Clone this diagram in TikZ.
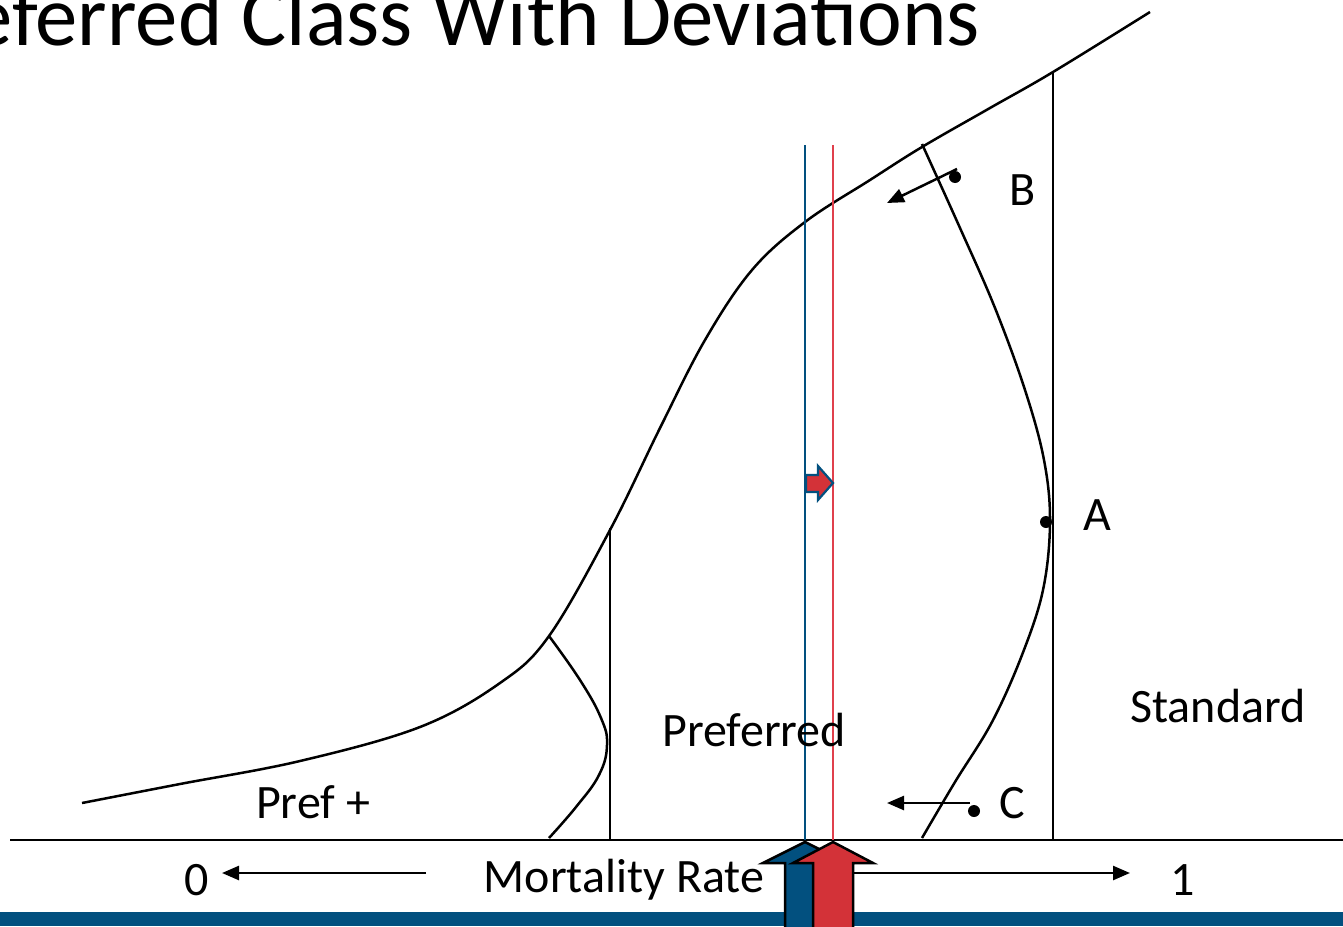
\documentclass[tikz,border=0pt]{standalone}
\usepackage{fontspec}
\setmainfont{Carlito}
\usetikzlibrary{arrows.meta}
\definecolor{dblue}{HTML}{02507F}
\definecolor{bred}{HTML}{D33238}
\definecolor{lred}{HTML}{E0404C}
\tikzset{
  curve/.style={line width=2.5pt, black},
  vline/.style={line width=2.5pt, black},
  lbl/.style={font=\fontsize{48}{56}\selectfont, inner sep=0pt},
  ptr/.style={line width=2.5pt, -{Triangle[length=17pt,width=14pt]}},
  dot/.style={circle, fill=black, minimum size=12pt, inner sep=0pt},
  blockarrow/.style={line width=2.5pt, draw=black, line join=miter},
}
\begin{document}
\begin{tikzpicture}[x=1pt,y=-1pt]
\useasboundingbox (0,0) rectangle (1343,926);
% title
\node[anchor=base east, inner sep=0pt, font=\fontsize{86}{100}\selectfont, xscale=0.985] (title) at (980,45) {Preferred Class With Deviations};
% bottom bar
\fill[dblue] (0,912) rectangle (1343,926);
% axis
\draw[line width=2.5pt] (10,840) -- (1343,840);
% main S curve
\draw[curve] plot[smooth, tension=0.6] coordinates {(82,803) (180,784) (300,761) (420,727) (500,683) (549,636) (610,530) (660,428) (705,340) (752,270) (805,222) (870,180) (922,147) (990,108) (1053,72) (1150,12)};
% left small curve
\draw[curve] plot[smooth, tension=0.7] coordinates {(549,636) (580,680) (601,718) (607,745) (599,775) (576,807) (549,838)};
% right big curve
\draw[curve] plot[smooth, tension=0.6] coordinates {(922,144) (960,228) (995,308) (1025,390) (1044,460) (1050,522) (1043,590) (1022,655) (992,722) (955,782) (922,838)};
% vertical lines
\draw[vline] (610,528) -- (610,840);
\draw[vline] (1053,72) -- (1053,840);
\draw[dblue, line width=2pt] (805,145) -- (805,840);
\draw[lred, line width=2pt] (833,145) -- (833,840);
% small middle arrow
\draw[fill=bred, draw=dblue, line width=2.2pt, line join=miter] (806,475) -- (818,475) -- (818,466) -- (833,483) -- (818,500) -- (818,492) -- (806,492) -- cycle;
% dots and arrows
\node[dot] (Bdot) at (955,177) {};
\coordinate (Bstart) at (957,169);
\coordinate (Bend) at (887,203);
\draw[ptr] (Bstart) -- (Bend);
\node[dot] (Cdot) at (974,811) {};
\coordinate (Cstart) at (970,803);
\coordinate (Cend) at (887,803);
\draw[ptr] (Cstart) -- (Cend);
\node[dot] (Adot) at (1046,522) {};
% labels
\node[lbl] (A) at (1097,515) {A};
\node[lbl] (B) at (1023,190) {B};
\node[lbl] (C) at (1012,803) {C};
\node[lbl] (prefp) at (313,802) {Pref +};
\node[lbl] (pref) at (754,730) {Preferred};
\node[lbl] (std) at (1218,706) {Standard};
\node[lbl] (mort) at (624,880) {Mortality Rate};
\node[lbl] (zero) at (197,880) {0};
\node[lbl] (one) at (1183,880) {1};
\coordinate (z0) at (426,873);
\coordinate (z1) at (222,873);
\draw[ptr] (z0) -- (z1);
\coordinate (o0) at (853,873);
\coordinate (o1) at (1130,873);
\draw[ptr] (o0) -- (o1);
% block arrows
\draw[blockarrow, fill=dblue] (785,930) -- (785,863) -- (763,863) -- (805,842) -- (847,863) -- (825,863) -- (825,930);
\draw[blockarrow, fill=bred] (813,930) -- (813,863) -- (793,863) -- (833,842) -- (873,863) -- (853,863) -- (853,930);
\end{tikzpicture}
\end{document}
